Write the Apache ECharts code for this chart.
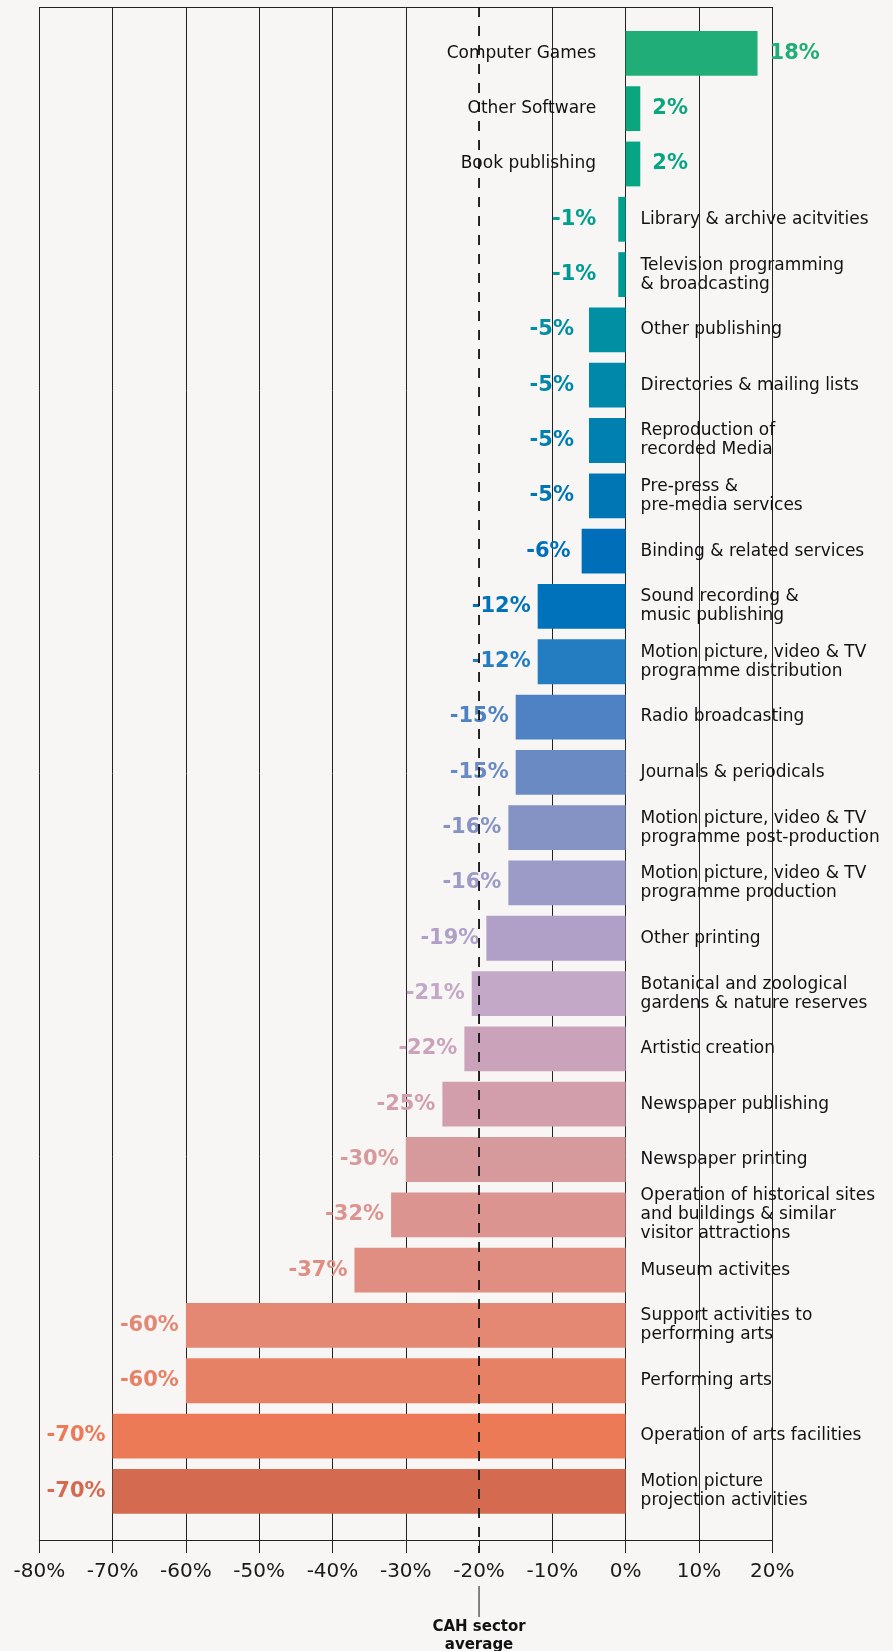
<!DOCTYPE html>
<html>
<head>
<meta charset="utf-8">
<script src="https://cdn.jsdelivr.net/npm/echarts@6/dist/echarts.min.js"></script>
<style>
html,body{margin:0;padding:0;background:#F7F6F4;}
#c{width:893px;height:1651px;}
</style>
</head>
<body>
<div id="c"></div>
<script>
// ---- data ----
const categories = [
  'Computer Games',
  'Other Software',
  'Book publishing',
  'Library & archive acitvities',
  'Television programming\n& broadcasting',
  'Other publishing',
  'Directories & mailing lists',
  'Reproduction of\nrecorded Media',
  'Pre-press &\npre-media services',
  'Binding & related services',
  'Sound recording &\nmusic publishing',
  'Motion picture, video & TV\nprogramme distribution',
  'Radio broadcasting',
  'Journals & periodicals',
  'Motion picture, video & TV\nprogramme post-production',
  'Motion picture, video & TV\nprogramme production',
  'Other printing',
  'Botanical and zoological\ngardens & nature reserves',
  'Artistic creation',
  'Newspaper publishing',
  'Newspaper printing',
  'Operation of historical sites\nand buildings & similar\nvisitor attractions',
  'Museum activites',
  'Support activities to\nperforming arts',
  'Performing arts',
  'Operation of arts facilities',
  'Motion picture\nprojection activities'
];
const values = [18, 2, 2, -1, -1, -5, -5, -5, -5, -6, -12, -12, -15, -15, -16, -16, -19, -21, -22, -25, -30, -32, -37, -60, -60, -70, -70];
const barColors = [
  '#21AD78', '#0BA67E', '#07A583', '#00A08C', '#009A96', '#008FA3', '#0088AA', '#0080B0', '#0076B5',
  '#006EB9', '#0072BC', '#247DC0', '#4E82C4', '#6A8AC3', '#8592C4', '#9C9BC8', '#B0A0C7', '#C3A8C8',
  '#CAA2BA', '#D29EAC', '#D6999C', '#DB9490', '#E08D82', '#E48873', '#E78166', '#EC7A56', '#D46B51'
];
const tickValues = [-80, -70, -60, -50, -40, -30, -20, -10, 0, 10, 20];
const sectorAverage = -20;
const annotationText = 'CAH sector\naverage';

// ---- chart ----
const FONT = 'DejaVu Sans';
const chart = echarts.init(document.getElementById('c'), null, {renderer: 'canvas'});

function negLabelGap(v) {
  const a = Math.abs(v);
  if (a <= 1) return 22;
  if (a <= 5) return 15;
  if (a <= 6) return 11;
  return 7;
}

const option = {
  backgroundColor: '#F7F6F4',
  animation: false,
  grid: [
    {left: 39.3, right: 120.8, top: 7, bottom: 111},
    {left: 39.3, right: 120.8, top: 25.7, height: 1493.3}
  ],
  xAxis: [
    {
      gridIndex: 0, type: 'value', min: tickValues[0], max: tickValues[tickValues.length - 1], interval: 10,
      position: 'bottom',
      axisLine: {show: true, onZero: false, lineStyle: {color: '#222', width: 1}},
      axisTick: {show: true, length: 13, lineStyle: {color: '#222', width: 1}},
      axisLabel: {formatter: v => v + '%', color: '#1a1a1a', fontSize: 20, fontFamily: FONT, margin: 22},
      splitLine: {show: true, lineStyle: {color: tickValues.map(v => v === sectorAverage ? 'rgba(0,0,0,0)' : '#222'), width: 1}}
    },
    {
      gridIndex: 0, type: 'value', min: tickValues[0], max: tickValues[tickValues.length - 1], position: 'top',
      axisLine: {show: true, onZero: false, lineStyle: {color: '#222', width: 1}},
      axisTick: {show: false}, axisLabel: {show: false}, splitLine: {show: false}
    },
    {gridIndex: 1, type: 'value', min: tickValues[0], max: tickValues[tickValues.length - 1], show: false}
  ],
  yAxis: [
    {gridIndex: 0, type: 'value', min: 0, max: 1, show: false},
    {gridIndex: 1, type: 'category', data: categories, inverse: true, show: false}
  ],
  series: [
    {
      type: 'bar', xAxisIndex: 2, yAxisIndex: 1, barCategoryGap: '19%',
      data: values.map((v, i) => ({
        value: v,
        itemStyle: {color: barColors[i]},
        label: {position: v >= 0 ? 'right' : 'left', distance: v >= 0 ? 12 : negLabelGap(v), color: barColors[i]}
      })),
      label: {show: true, formatter: p => p.value + '%', fontFamily: FONT, fontWeight: 'bold', fontSize: 21},
      z: 3
    },
    {
      type: 'scatter', xAxisIndex: 2, yAxisIndex: 1, symbolSize: 0, silent: true,
      itemStyle: {opacity: 1},
      data: categories.map((c, i) => ({
        value: [0, i],
        label: {position: values[i] >= 0 ? 'left' : 'right', distance: values[i] >= 0 ? 29.5 : 15,
                align: values[i] >= 0 ? 'right' : 'left'}
      })),
      label: {show: true, formatter: p => categories[p.dataIndex], color: '#111', fontSize: 17, fontFamily: FONT, lineHeight: 19},
      z: 4
    }
  ]
};
chart.setOption(option);

const px = chart.convertToPixel({xAxisIndex: 0}, sectorAverage);
const yTop = chart.convertToPixel({yAxisIndex: 0}, 1);
const yBot = chart.convertToPixel({yAxisIndex: 0}, 0);
chart.setOption({
  graphic: [
    {type: 'line', z: 100, shape: {x1: px, y1: yTop, x2: px, y2: yBot + 13},
     style: {stroke: '#111', lineWidth: 1.8, lineDash: [10, 9]}},
    {type: 'line', z: 100, shape: {x1: px, y1: yBot + 46, x2: px, y2: yBot + 77},
     style: {stroke: '#111', lineWidth: 1}},
    {type: 'text', z: 100, x: px, y: yBot + 78,
     style: {text: annotationText, fill: '#111', fontSize: 15, fontWeight: 'bold', fontFamily: FONT,
             align: 'center', verticalAlign: 'top', lineHeight: 18}}
  ]
});
</script>
</body>
</html>
